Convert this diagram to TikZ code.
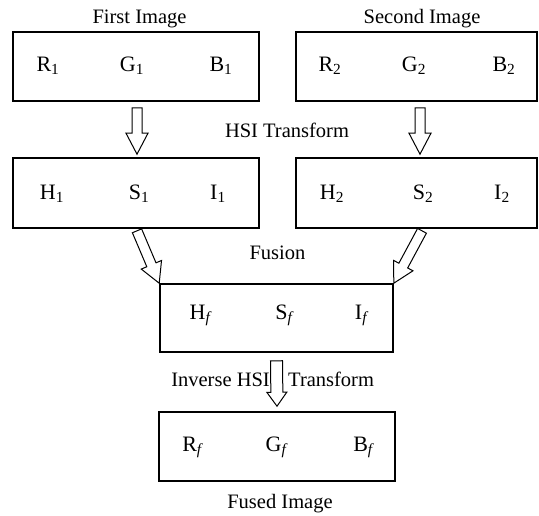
\documentclass[tikz,border=0pt]{standalone}
\usepackage{fontspec}
\setmainfont{Liberation Serif}
\usetikzlibrary{calc}

\begin{document}
\begin{tikzpicture}[x=1pt, y=-1pt,
	box/.style={draw, line width=1.6pt, inner sep=0pt},
	lbl/.style={inner sep=0pt, font=\fontsize{20.5}{24}\selectfont},
	chan/.style={inner sep=0pt, anchor=base, font=\fontsize{22}{26}\selectfont},
	blockarrow/.style n args={3}{draw, line width=1pt, line join=miter, to path={
		let \p1=(\tikztostart), \p2=(\tikztotarget), \n1={atan2(\y2-\y1,\x2-\x1)}, \p3=($(\p2)!#3!(\p1)$) in
		($(\p1)+(\n1+90:#1)$) -- ($(\p3)+(\n1+90:#1)$) -- ($(\p3)+(\n1+90:#2)$) -- (\p2)
		-- ($(\p3)+(\n1-90:#2)$) -- ($(\p3)+(\n1-90:#1)$) -- ($(\p1)+(\n1-90:#1)$) -- cycle}}]
	\useasboundingbox (0,0) rectangle (539,515);

	\node[box, minimum width=246pt, minimum height=69pt] (rgb1) at (136,66.5) {};
	\node[box, minimum width=241pt, minimum height=69pt] (rgb2) at (416.5,66.5) {};
	\node[box, minimum width=246pt, minimum height=70pt] (hsi1) at (136,193) {};
	\node[box, minimum width=241pt, minimum height=70pt] (hsi2) at (416.5,193) {};
	\node[box, minimum width=233pt, minimum height=68pt] (fused) at (276.5,318) {};
	\node[box, minimum width=236pt, minimum height=69pt] (rgbf) at (277,446.5) {};

	\node[lbl, anchor=base] (title1) at (139.5,23) {First Image};
	\node[lbl, anchor=base] (title2) at (422,23) {Second Image};
	\node[lbl, anchor=base] (hsit) at (287,137) {HSI Transform};
	\node[lbl, anchor=base] (fusion) at (277.5,259) {Fusion};
	\node[lbl, anchor=base east] (inv) at (270,386) {Inverse HSI};
	\node[lbl, anchor=base west] (invt) at (288,386) {Transform};
	\node[lbl, anchor=base] (titlef) at (280,508) {Fused Image};

	\node[chan] (r1) at (48,71) {R\textsubscript{1}};
	\node[chan] (g1) at (132,71) {G\textsubscript{1}};
	\node[chan] (b1) at (221,71) {B\textsubscript{1}};
	\node[chan] (r2) at (330,71) {R\textsubscript{2}};
	\node[chan] (g2) at (414,71) {G\textsubscript{2}};
	\node[chan] (b2) at (504,71) {B\textsubscript{2}};
	\node[chan] (h1) at (52,199) {H\textsubscript{1}};
	\node[chan] (s1) at (139,199) {S\textsubscript{1}};
	\node[chan] (i1) at (218,199) {I\textsubscript{1}};
	\node[chan] (h2) at (332,199) {H\textsubscript{2}};
	\node[chan] (s2) at (423,199) {S\textsubscript{2}};
	\node[chan] (i2) at (502,199) {I\textsubscript{2}};
	\node[chan] (hf) at (200,319) {H\textsubscript{\itshape f}};
	\node[chan] (sf) at (284,319) {S\textsubscript{\itshape f}};
	\node[chan] (if) at (361,319) {I\textsubscript{\itshape f}};
	\node[chan] (rf) at (192,451) {R\textsubscript{\itshape f}};
	\node[chan] (gf) at (276,451) {G\textsubscript{\itshape f}};
	\node[chan] (bf) at (363,451) {B\textsubscript{\itshape f}};

	\draw[blockarrow={5pt}{11pt}{21pt}] ([shift={(1pt,-6pt)}]rgb1.south) to ([shift={(1pt,3pt)}]hsi1.north);
	\draw[blockarrow={5pt}{11pt}{21pt}] ([shift={(3.5pt,-6pt)}]rgb2.south) to ([shift={(3.5pt,3pt)}]hsi2.north);
	\draw[blockarrow={5pt}{11pt}{20pt}] ([shift={(1pt,-2pt)}]hsi1.south) to (fused.north west);
	\draw[blockarrow={5pt}{11pt}{20pt}] ([shift={(5.5pt,-2pt)}]hsi2.south) to (fused.north east);
	\draw[blockarrow={6pt}{10pt}{14pt}] ([yshift=-8pt]fused.south) to ([yshift=5pt]rgbf.north);
\end{tikzpicture}
\end{document}
